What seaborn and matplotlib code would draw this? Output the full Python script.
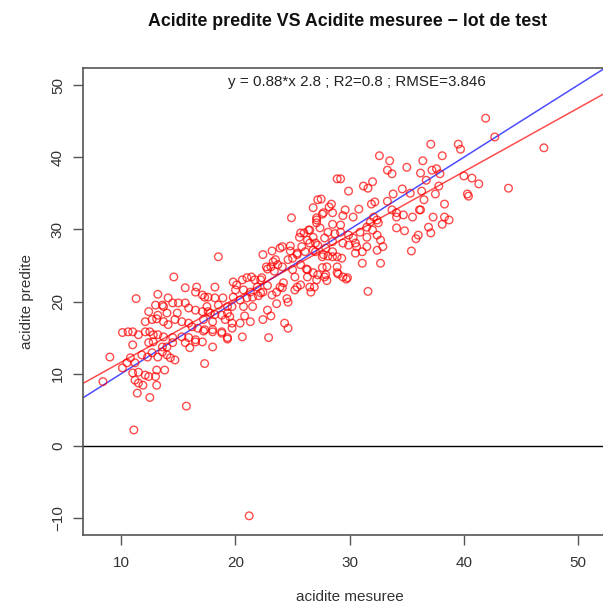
import matplotlib
matplotlib.use("Agg")
import matplotlib.pyplot as plt
import seaborn as sns

measured = [
    8.4, 9.0, 11.1, 21.2, 15.7, 12.5, 11.4, 13.1, 11.3, 14.6, 18.5, 17.3,
    41.9, 42.7, 47.0, 43.9, 37.1, 39.5, 39.7, 38.1, 36.4, 37.2, 37.6, 37.9,
    36.2, 36.7, 40.0, 40.7, 41.3, 37.8, 36.3, 37.5, 36.5, 40.3, 40.4, 38.3,
    36.2, 37.3, 38.3, 38.7, 38.1, 36.9, 37.1,
    32.6, 33.5, 35.0, 33.3, 33.7, 28.9, 29.2, 32.0, 31.2, 31.6, 29.9, 33.8,
    34.6, 35.3, 27.5, 28.4, 28.2, 26.8, 31.9, 32.2, 33.3, 30.8, 29.6, 36.1,
    33.7, 34.1, 27.1, 27.6, 29.4, 30.3, 32.1, 32.4, 34.1, 34.7, 35.5, 27.1,
    27.4, 28.5, 29.2, 31.8, 32.5, 31.5, 32.0, 34.1, 34.8, 25.7, 26.4, 28.7,
    29.2, 29.9, 30.3, 30.9, 31.5, 32.4, 32.7, 36.0, 35.8, 26.3, 27.0, 27.8,
    29.4, 29.9, 30.5, 30.6, 31.5, 32.9, 32.4, 35.4, 25.8, 26.8, 27.7, 28.5,
    28.9, 29.3, 30.5, 31.1, 31.1, 32.7, 26.3, 26.8, 27.2, 28.0, 28.9, 29.0,
    29.4, 27.8, 29.8, 31.6, 29.7, 28.9,
    24.9, 27.2, 27.7, 27.1, 28.5, 28.1, 26.5, 26.0, 26.8, 25.6, 28.5, 26.5,
    27.2, 27.9, 28.5, 28.1, 27.6, 27.0, 26.1, 25.4, 24.6, 23.5, 22.7, 23.9,
    22.4, 23.2, 24.1, 24.8, 24.8, 25.4, 23.3, 23.7, 23.1, 24.1, 22.8, 23.4,
    25.0, 25.7, 25.0, 26.2, 26.3, 27.1, 26.5, 27.6, 27.9, 28.0, 25.2, 25.4,
    25.7, 25.2, 26.6, 26.9, 23.9, 24.2, 23.6, 24.1, 24.5, 23.2, 23.6, 22.4,
    19.8, 20.1, 20.6, 21.0, 21.4, 21.7, 22.2, 22.3, 20.0, 20.7, 21.3, 21.9,
    22.2, 22.8, 18.2, 17.3, 18.2, 18.9, 19.8, 20.4, 21.0, 21.5, 22.0, 17.5,
    18.5, 19.3, 19.7, 20.7, 21.5, 22.8, 23.1, 17.1, 17.8, 18.8, 19.5, 20.8,
    21.3, 17.2, 18.0, 19.1, 19.7, 20.4, 22.4, 24.3, 24.6, 18.0, 18.8, 19.7,
    20.6, 22.9, 18.0, 19.3, 24.6, 17.2,
    15.6, 16.6, 13.2, 14.1, 16.5, 17.1, 17.6, 13.0, 13.6, 13.7, 14.5, 15.0,
    15.6, 12.4, 13.2, 14.0, 14.9, 15.9, 16.5, 17.6, 18.2, 19.3, 12.1, 12.7,
    13.1, 13.7, 14.1, 14.7, 15.3, 15.9, 16.2, 16.7, 17.3, 18.0, 18.8, 10.1,
    10.6, 11.0, 11.5, 12.1, 12.5, 12.8, 13.2, 13.7, 14.5, 15.3, 15.9, 16.5,
    17.1, 19.3, 11.0, 12.4, 12.8, 13.6, 14.0, 14.5, 15.6, 16.0, 16.5, 10.1,
    10.5, 10.8, 11.2, 11.8, 12.3, 12.7, 13.2, 13.6, 14.0, 14.3, 14.7, 11.0,
    11.5, 12.1, 11.2, 11.5, 11.9, 12.4, 13.0, 13.1, 13.8,
]
predicted = [
    8.9, 12.3, 2.2, -9.7, 5.5, 6.7, 7.3, 8.4, 20.4, 23.4, 26.2, 11.4,
    45.4, 42.8, 41.3, 35.7, 41.8, 41.8, 41.1, 40.2, 39.5, 38.2, 38.4, 37.7,
    37.8, 36.8, 37.4, 37.1, 36.3, 36.0, 35.3, 34.9, 34.1, 34.9, 34.6, 33.5,
    32.7, 31.7, 31.7, 31.3, 30.7, 30.3, 29.5,
    40.2, 39.5, 38.6, 38.2, 37.7, 37.0, 37.0, 36.6, 36.0, 35.7, 35.3, 34.9,
    35.6, 35.0, 34.2, 33.5, 33.1, 33.0, 33.5, 33.8, 33.9, 32.8, 32.7, 32.7,
    32.7, 32.3, 31.6, 32.1, 31.9, 31.7, 31.7, 31.3, 31.7, 32.0, 31.7, 30.9,
    30.2, 30.7, 30.6, 31.0, 30.9, 30.3, 29.9, 30.2, 29.8, 29.5, 29.9, 29.4,
    29.6, 29.2, 28.8, 29.6, 28.9, 29.2, 28.5, 29.2, 28.7, 28.5, 28.1, 28.8,
    28.1, 27.8, 28.1, 27.6, 27.6, 27.6, 27.1, 27.0, 27.6, 27.1, 26.5, 26.9,
    26.2, 26.0, 26.7, 26.9, 25.3, 25.3, 24.4, 24.0, 23.7, 24.8, 24.8, 23.8,
    23.4, 23.4, 23.3, 21.4, 23.1, 24.0,
    31.6, 34.1, 32.3, 31.3, 32.3, 29.6, 29.9, 29.5, 28.9, 28.9, 28.3, 28.1,
    27.8, 27.4, 26.2, 26.3, 26.2, 26.9, 26.9, 26.5, 25.8, 25.8, 24.8, 27.4,
    26.5, 27.0, 27.6, 27.7, 27.0, 26.7, 25.5, 25.1, 24.8, 24.8, 24.5, 24.2,
    26.0, 25.1, 24.4, 24.5, 23.4, 23.0, 22.0, 24.7, 23.7, 22.9, 23.4, 22.0,
    22.3, 21.6, 21.3, 22.0, 22.0, 22.6, 21.3, 21.9, 20.4, 20.9, 19.7, 21.3,
    22.7, 22.3, 23.0, 23.3, 23.4, 23.0, 23.0, 23.3, 21.6, 21.6, 21.3, 22.0,
    21.2, 22.2, 22.0, 20.6, 20.5, 20.5, 20.6, 20.2, 20.5, 20.6, 20.8, 19.3,
    19.5, 19.3, 19.3, 19.3, 19.3, 18.8, 18.0, 18.6, 18.4, 18.1, 17.9, 18.0,
    17.2, 17.5, 17.2, 17.5, 17.0, 17.0, 17.5, 17.0, 16.3, 15.8, 15.6, 16.3,
    15.1, 15.0, 13.7, 14.8, 19.9, 15.9,
    21.9, 22.0, 21.0, 20.5, 21.3, 20.9, 20.6, 19.5, 19.5, 19.3, 19.8, 19.8,
    19.8, 18.6, 18.1, 18.4, 18.4, 19.1, 18.8, 18.6, 18.2, 18.4, 17.2, 17.5,
    17.6, 17.2, 16.8, 17.5, 17.2, 17.0, 16.5, 16.3, 16.1, 16.1, 15.8, 15.7,
    15.8, 15.8, 15.4, 15.8, 15.8, 15.4, 15.4, 15.1, 15.0, 15.1, 15.0, 14.7,
    14.4, 15.0, 14.0, 14.3, 14.4, 13.7, 13.7, 14.3, 14.3, 13.6, 14.4, 10.8,
    11.5, 12.2, 11.5, 12.6, 12.3, 12.9, 12.3, 13.0, 12.6, 12.2, 11.9, 10.1,
    10.2, 9.8, 9.1, 8.7, 8.4, 9.6, 9.6, 10.5, 10.5,
]

fit_slope = 0.88
fit_intercept = 2.8
fit_label = "y = 0.88*x 2.8 ; R2=0.8 ; RMSE=3.846"
title = "Acidite predite VS Acidite mesuree \u2212 lot de test"
x_ticks = [10, 20, 30, 40, 50]
y_ticks = [-10, 0, 10, 20, 30, 40, 50]

sns.set_style("white")
plt.rcParams["font.family"] = ["Liberation Sans", "DejaVu Sans"]
plt.rcParams["axes.unicode_minus"] = True

fig = plt.figure(figsize=(6.03, 6.07), dpi=100)
# plot region runs past the right edge of the picture, as in the reference
ax = fig.add_axes([83 / 603, 71.7 / 607, 534 / 603, 467.6 / 607])

sns.scatterplot(x=measured, y=predicted, ax=ax, marker="o", s=30,
                fc="none", ec="red", linewidth=1.0, alpha=0.7, zorder=3)

ax.axline((0, 0), slope=1, color="blue", lw=1.1, alpha=0.7)
ax.axline((0, fit_intercept), slope=fit_slope, color="red", lw=1.1, alpha=0.7)
ax.axhline(0, color="black", lw=1)

ax.set_xlim(6.65, 53.4)
ax.set_ylim(-12.4, 52.4)
ax.set_xticks(x_ticks)
ax.set_yticks(y_ticks)
ax.tick_params(axis="y", labelrotation=90, pad=6)
for lbl in ax.get_yticklabels():
    lbl.set_va("center")

for side in ["left", "bottom", "top"]:
    ax.spines[side].set_color("#555555")
    ax.spines[side].set_linewidth(1.2)
ax.spines["right"].set_visible(False)
ax.tick_params(direction="out", length=7, width=1, color="#555555",
               labelsize=11, labelcolor="#333333", left=True, bottom=True)
ax.tick_params(axis="x", pad=8)

ax.set_xlabel("acidite mesuree", fontsize=11, color="#333333", labelpad=14)
ax.set_ylabel("acidite predite", fontsize=11, color="#333333", labelpad=12)

ax.text(0.513, 0.969, fit_label, transform=ax.transAxes, ha="center", va="center",
        fontsize=10.9, color="#222222")
fig.text(348 / 603, 1 - 22 / 607, title, ha="center", va="center",
         fontsize=12.8, fontweight="bold", color="#111111")

fig.savefig("out.png", dpi=100)
